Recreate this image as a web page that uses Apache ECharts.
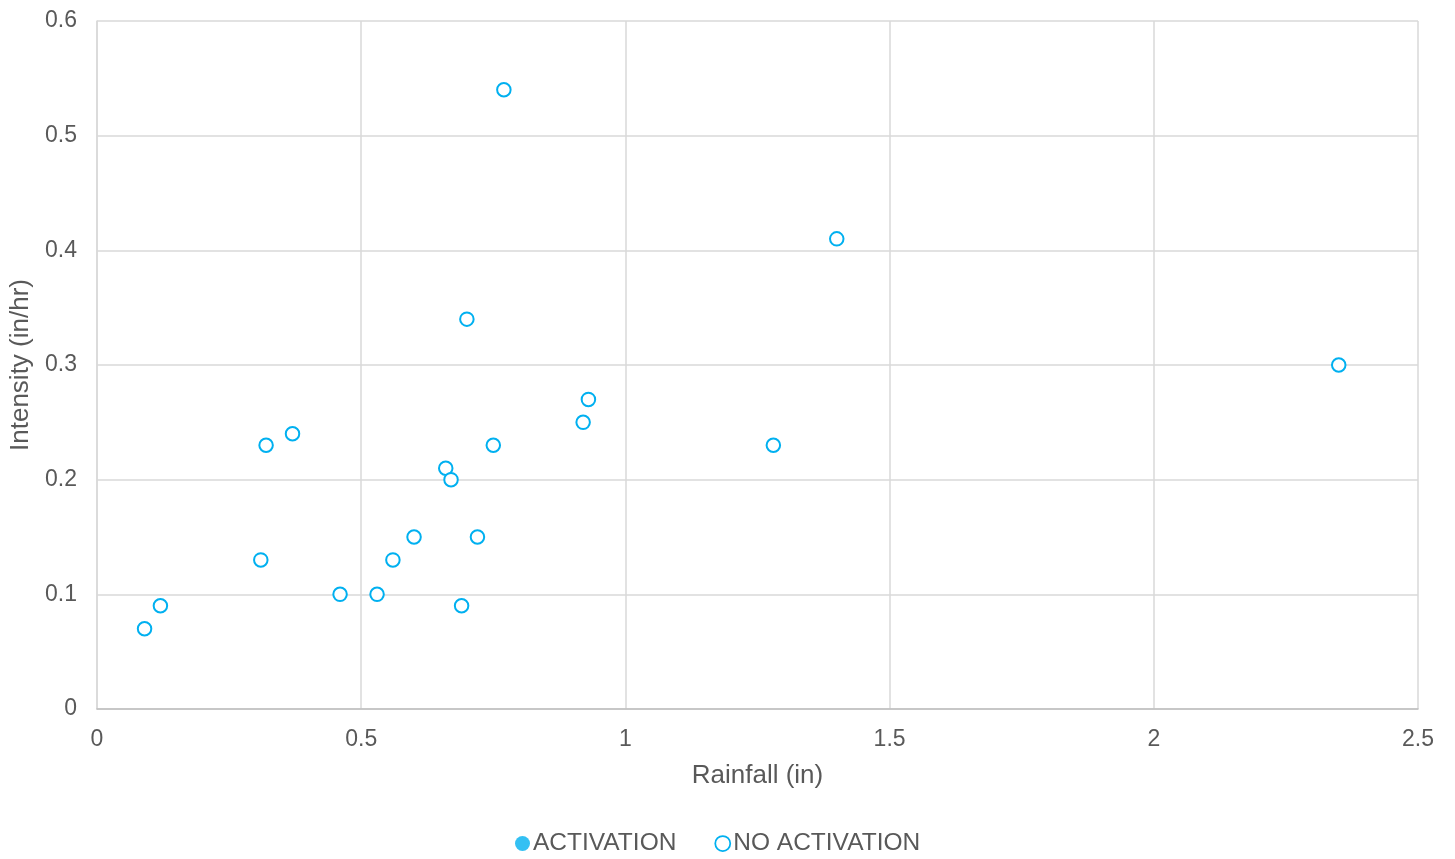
<!DOCTYPE html>
<html>
<head>
<meta charset="utf-8">
<script src="https://cdn.jsdelivr.net/npm/echarts@6/dist/echarts.min.js"></script>
<style>html,body{margin:0;padding:0;background:#fff;}#c{width:1455px;height:859px;}</style>
</head>
<body>
<div id="c"></div>
<script>
const seriesNames = ['ACTIVATION', 'NO ACTIVATION'];
const activationX = [];
const activationY = [];
const noActivationX = [0.09, 0.12, 0.31, 0.32, 0.37, 0.46, 0.53, 0.56, 0.60, 0.66, 0.67, 0.69, 0.70, 0.72, 0.75, 0.77, 0.92, 0.93, 1.28, 1.40, 2.35];
const noActivationY = [0.07, 0.09, 0.13, 0.23, 0.24, 0.10, 0.10, 0.13, 0.15, 0.21, 0.20, 0.09, 0.34, 0.15, 0.23, 0.54, 0.25, 0.27, 0.23, 0.41, 0.30];
const xAxisTitle = 'Rainfall (in)';
const yAxisTitle = 'Intensity (in/hr)';

const color = '#00B0F0';
const font = 'Liberation Sans, Arial, sans-serif';
const pairs = (xs, ys) => xs.map((x, i) => [x, ys[i]]);

const chart = echarts.init(document.getElementById('c'), null, {renderer: 'canvas'});
chart.setOption({
  animation: false,
  backgroundColor: '#fff',
  grid: {left: 97, right: 37, top: 21, bottom: 150, containLabel: false, outerBoundsMode: 'none'},
  legend: {
    bottom: 3,
    left: 515,
    padding: 0,
    itemGap: 38,
    itemWidth: 15,
    itemHeight: 15,
    icon: 'circle',
    textStyle: {fontFamily: font, fontSize: 24.5, color: '#595959', padding: [0, 0, 0, -2]},
    data: [
      {name: seriesNames[0], itemStyle: {color: color, borderColor: color}},
      {name: seriesNames[1], itemStyle: {color: '#fff', borderColor: color, borderWidth: 1.75}}
    ]
  },
  xAxis: {
    type: 'value', min: 0, max: 2.5, interval: 0.5,
    name: xAxisTitle, nameLocation: 'middle', nameGap: 54,
    nameTextStyle: {fontFamily: font, fontSize: 26, color: '#595959'},
    axisLine: {show: true, lineStyle: {color: '#bfbfbf', width: 1.5}},
    axisTick: {show: false},
    axisLabel: {fontFamily: font, fontSize: 23, color: '#595959', margin: 19},
    splitLine: {show: true, lineStyle: {color: '#d9d9d9', width: 1.5}}
  },
  yAxis: {
    type: 'value', min: 0, max: 0.6, interval: 0.1,
    name: yAxisTitle, nameLocation: 'middle', nameGap: 60,
    nameTextStyle: {fontFamily: font, fontSize: 26, color: '#595959'},
    axisLine: {show: true, lineStyle: {color: '#d9d9d9', width: 1.5}},
    axisTick: {show: false},
    axisLabel: {fontFamily: font, fontSize: 23, color: '#595959', margin: 20, padding: [4, 0, 0, 0]},
    splitLine: {show: true, lineStyle: {color: '#d9d9d9', width: 1.5}}
  },
  series: [
    {
      name: seriesNames[0], type: 'scatter', symbol: 'circle', symbolSize: 13.5,
      itemStyle: {color: color},
      data: pairs(activationX, activationY)
    },
    {
      name: seriesNames[1], type: 'scatter', symbol: 'circle', symbolSize: 13.5,
      itemStyle: {color: '#fff', borderColor: color, borderWidth: 2, opacity: 1},
      data: pairs(noActivationX, noActivationY)
    }
  ]
});
</script>
</body>
</html>
